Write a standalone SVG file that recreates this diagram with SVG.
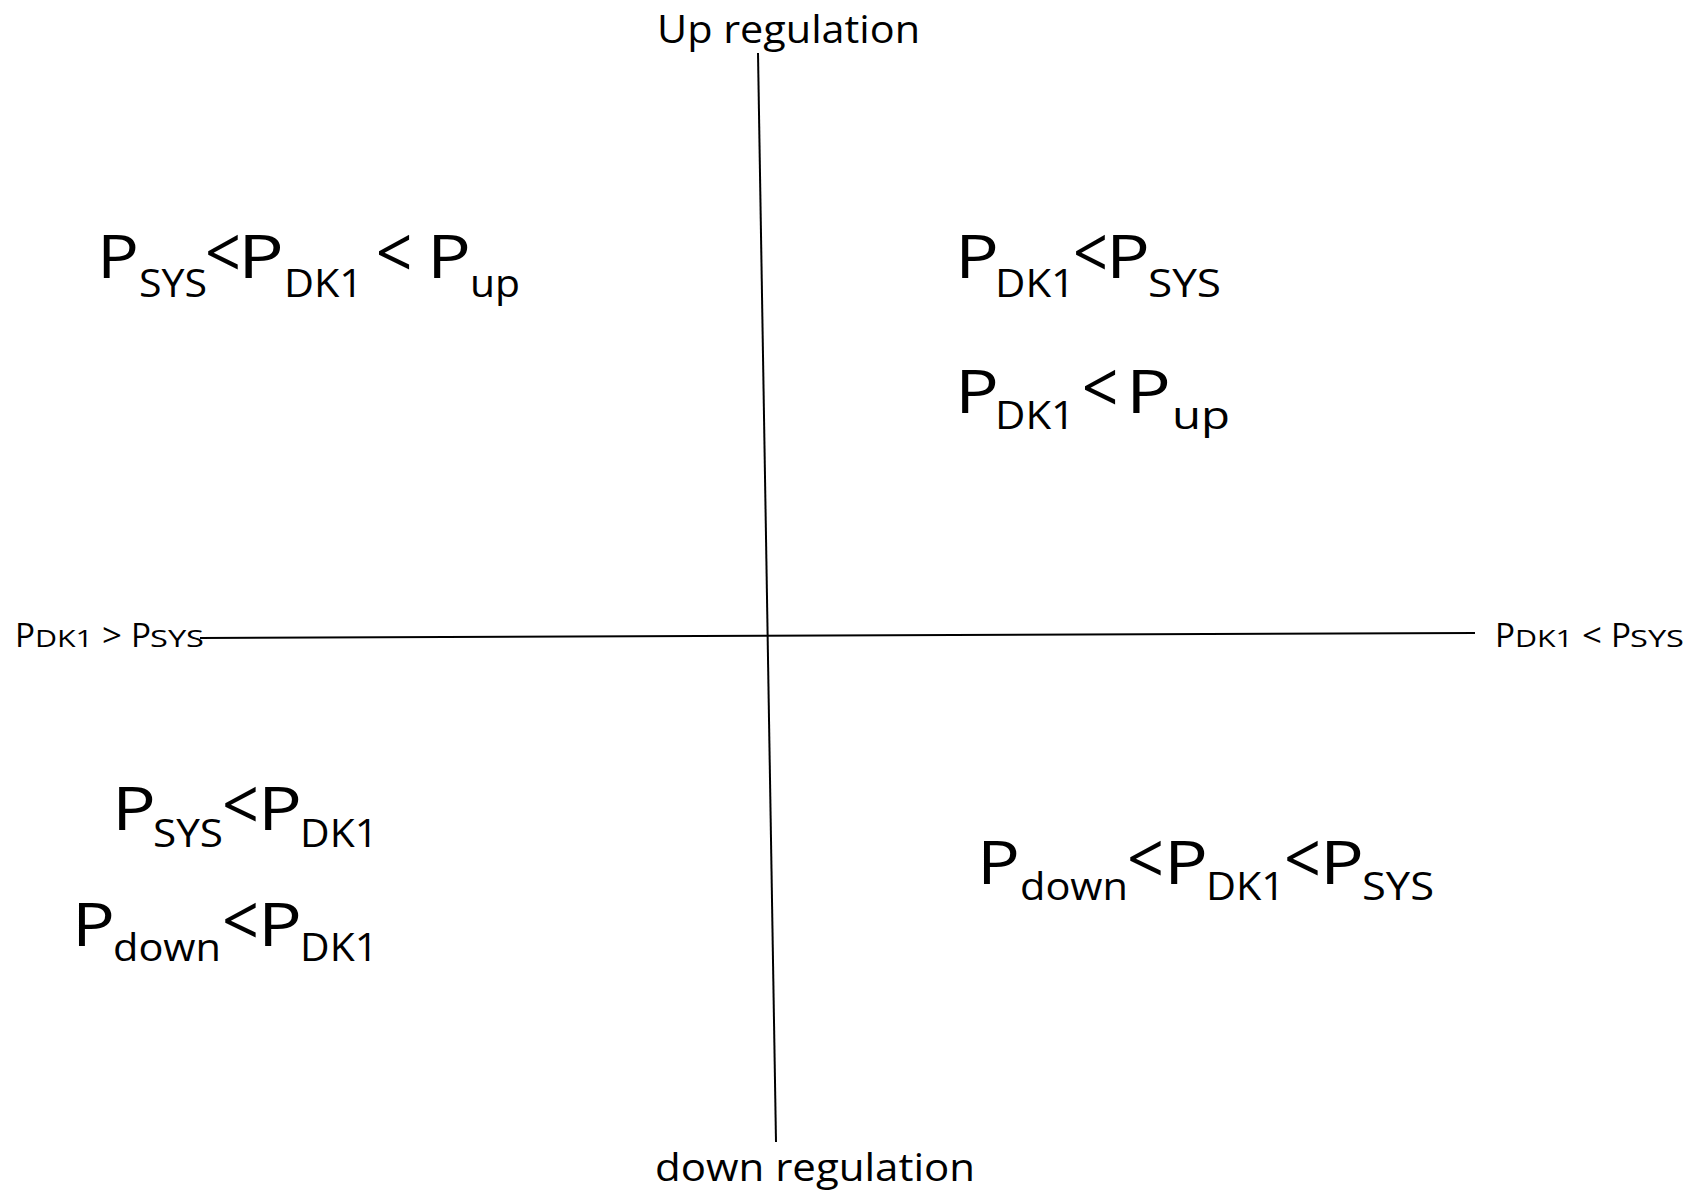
<svg xmlns="http://www.w3.org/2000/svg" width="1691" height="1191" viewBox="0 0 1691 1191">
  <style>
    text { font-family: "Open Sans", "Liberation Sans", sans-serif; fill: #000; }
    .axis { stroke: #000; stroke-width: 2; fill: none; }
    .big { font-size: 60px; }
    .lt { font-size: 72px; }
    .sub { font-size: 38px; }
    .lab { font-size: 38px; }
    .sideL { font-size: 32px; }
    .sideS { font-size: 24px; }
  </style>
  <rect width="1691" height="1191" fill="#fff"/>
  <g id="connectors">
    <line class="axis" x1="758" y1="53" x2="776" y2="1142"/>
    <line class="axis" x1="200" y1="638" x2="1475" y2="633"/>
  </g>
  <g id="label-up">
    <text class="lab" x="657" y="43" textLength="263" lengthAdjust="spacingAndGlyphs">Up regulation</text>
  </g>
  <g id="label-down">
    <text class="lab" x="655" y="1181" textLength="320" lengthAdjust="spacingAndGlyphs">down regulation</text>
  </g>
  <g id="label-left">
    <text y="647"><tspan class="sideL" x="15" textLength="20" lengthAdjust="spacingAndGlyphs">P</tspan><tspan class="sideS" x="35" textLength="58" lengthAdjust="spacingAndGlyphs">DK1</tspan><tspan class="sideL" x="93" textLength="38" lengthAdjust="spacingAndGlyphs"> &gt; </tspan><tspan class="sideL" x="131" textLength="20" lengthAdjust="spacingAndGlyphs">P</tspan><tspan class="sideS" x="150" textLength="54" lengthAdjust="spacingAndGlyphs">SYS</tspan></text>
  </g>
  <g id="label-right">
    <text y="647"><tspan class="sideL" x="1495" textLength="20" lengthAdjust="spacingAndGlyphs">P</tspan><tspan class="sideS" x="1515" textLength="58" lengthAdjust="spacingAndGlyphs">DK1</tspan><tspan class="sideL" x="1573" textLength="38" lengthAdjust="spacingAndGlyphs"> &lt; </tspan><tspan class="sideL" x="1611" textLength="20" lengthAdjust="spacingAndGlyphs">P</tspan><tspan class="sideS" x="1630" textLength="54" lengthAdjust="spacingAndGlyphs">SYS</tspan></text>
  </g>
  <g id="q-top-left">
    <text><tspan class="big" x="97" y="278" textLength="42" lengthAdjust="spacingAndGlyphs">P</tspan><tspan class="sub" x="139" y="297" textLength="68" lengthAdjust="spacingAndGlyphs">SYS</tspan><tspan class="lt" x="205" y="278" textLength="36" lengthAdjust="spacingAndGlyphs">&lt;</tspan><tspan class="big" x="238" y="278" textLength="46" lengthAdjust="spacingAndGlyphs">P</tspan><tspan class="sub" x="284" y="297" textLength="79" lengthAdjust="spacingAndGlyphs">DK1</tspan><tspan class="lt" x="359" y="278" textLength="70" lengthAdjust="spacingAndGlyphs"> &lt; </tspan><tspan class="big" x="427" y="278" textLength="44" lengthAdjust="spacingAndGlyphs">P</tspan><tspan class="sub" x="470" y="297" textLength="50" lengthAdjust="spacingAndGlyphs">up</tspan></text>
  </g>
  <g id="q-top-right">
    <text><tspan class="big" x="955" y="278" textLength="44" lengthAdjust="spacingAndGlyphs">P</tspan><tspan class="sub" x="995" y="297" textLength="80" lengthAdjust="spacingAndGlyphs">DK1</tspan><tspan class="lt" x="1073" y="278" textLength="35" lengthAdjust="spacingAndGlyphs">&lt;</tspan><tspan class="big" x="1106" y="278" textLength="44" lengthAdjust="spacingAndGlyphs">P</tspan><tspan class="sub" x="1148" y="297" textLength="73" lengthAdjust="spacingAndGlyphs">SYS</tspan></text>
    <text><tspan class="big" x="955" y="413" textLength="44" lengthAdjust="spacingAndGlyphs">P</tspan><tspan class="sub" x="995" y="429" textLength="80" lengthAdjust="spacingAndGlyphs">DK1</tspan><tspan class="lt" x="1065" y="413" textLength="70" lengthAdjust="spacingAndGlyphs"> &lt; </tspan><tspan class="big" x="1126" y="413" textLength="45" lengthAdjust="spacingAndGlyphs">P</tspan><tspan class="sub" x="1172" y="429" textLength="58" lengthAdjust="spacingAndGlyphs">up</tspan></text>
  </g>
  <g id="q-bottom-left">
    <text><tspan class="big" x="112" y="830" textLength="44" lengthAdjust="spacingAndGlyphs">P</tspan><tspan class="sub" x="153" y="847" textLength="70" lengthAdjust="spacingAndGlyphs">SYS</tspan><tspan class="lt" x="222" y="830" textLength="37" lengthAdjust="spacingAndGlyphs">&lt;</tspan><tspan class="big" x="258" y="830" textLength="44" lengthAdjust="spacingAndGlyphs">P</tspan><tspan class="sub" x="300" y="847" textLength="78" lengthAdjust="spacingAndGlyphs">DK1</tspan></text>
    <text><tspan class="big" x="72" y="946" textLength="43" lengthAdjust="spacingAndGlyphs">P</tspan><tspan class="sub" x="113" y="961" textLength="108" lengthAdjust="spacingAndGlyphs">down</tspan><tspan class="lt" x="222" y="946" textLength="37" lengthAdjust="spacingAndGlyphs">&lt;</tspan><tspan class="big" x="258" y="946" textLength="44" lengthAdjust="spacingAndGlyphs">P</tspan><tspan class="sub" x="300" y="961" textLength="78" lengthAdjust="spacingAndGlyphs">DK1</tspan></text>
  </g>
  <g id="q-bottom-right">
    <text><tspan class="big" x="977" y="884" textLength="43" lengthAdjust="spacingAndGlyphs">P</tspan><tspan class="sub" x="1020" y="900" textLength="108" lengthAdjust="spacingAndGlyphs">down</tspan><tspan class="lt" x="1127" y="884" textLength="37" lengthAdjust="spacingAndGlyphs">&lt;</tspan><tspan class="big" x="1164" y="884" textLength="44" lengthAdjust="spacingAndGlyphs">P</tspan><tspan class="sub" x="1206" y="900" textLength="79" lengthAdjust="spacingAndGlyphs">DK1</tspan><tspan class="lt" x="1284" y="884" textLength="37" lengthAdjust="spacingAndGlyphs">&lt;</tspan><tspan class="big" x="1320" y="884" textLength="44" lengthAdjust="spacingAndGlyphs">P</tspan><tspan class="sub" x="1362" y="900" textLength="72" lengthAdjust="spacingAndGlyphs">SYS</tspan></text>
  </g>
</svg>
